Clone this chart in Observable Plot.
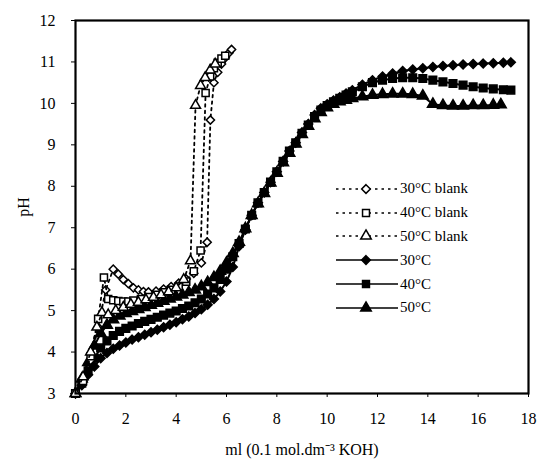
<!DOCTYPE html>
<html><head><meta charset="utf-8">
<script src="https://cdn.jsdelivr.net/npm/d3@7"></script>
<script src="https://cdn.jsdelivr.net/npm/@observablehq/plot@0.6"></script>
<style>
body{margin:0;background:#fff;}
#wrap{position:relative;width:541px;height:464px;}
#legend{position:absolute;left:336px;top:177px;font-family:"Liberation Serif",serif;font-size:15px;color:#000;}
.row{display:flex;align-items:center;height:23.8px;white-space:nowrap;}
.row svg{margin-right:2px;}
</style></head><body><div id="wrap"></div>
<script>
// ---- data ----
const xTicks = [0, 2, 4, 6, 8, 10, 12, 14, 16, 18];
const yTicks = [3, 4, 5, 6, 7, 8, 9, 10, 11, 12];

const mainX = [0,0.25,0.5,0.75,1,1.25,1.5,1.75,2,2.25,2.5,2.75,3,3.25,3.5,3.75,4,4.25,4.5,4.75,5,5.25,5.5,5.75,6,6.25,6.5,6.75,7,7.25,7.5,7.75,8,8.25,8.5,8.75,9,9.25,9.5,9.75,10,10.25,10.5,10.75,11,11.4,11.8,12.2,12.6,13,13.4,13.8,14.2,14.6,15,15.4,15.8,16.2,16.6,17,17.3];
const y30 = [3.0,3.2,3.45,3.65,3.85,3.98,4.08,4.16,4.23,4.3,4.36,4.42,4.48,4.54,4.6,4.66,4.72,4.79,4.86,4.94,5.03,5.14,5.28,5.46,5.7,6.05,6.55,6.95,7.3,7.6,7.85,8.1,8.35,8.6,8.85,9.05,9.3,9.5,9.72,9.88,9.98,10.07,10.15,10.24,10.32,10.45,10.56,10.65,10.72,10.78,10.82,10.85,10.88,10.9,10.92,10.94,10.95,10.96,10.97,10.98,10.99];
const y40 = [3.0,3.25,3.55,3.85,4.1,4.27,4.4,4.5,4.57,4.63,4.69,4.74,4.79,4.84,4.89,4.94,4.99,5.05,5.11,5.19,5.28,5.4,5.55,5.75,6.0,6.3,6.62,6.97,7.3,7.6,7.85,8.1,8.35,8.6,8.85,9.05,9.28,9.48,9.68,9.84,9.95,10.04,10.12,10.2,10.28,10.4,10.5,10.56,10.6,10.62,10.62,10.6,10.56,10.52,10.48,10.44,10.4,10.37,10.35,10.33,10.32];
const mainX50 = [0,0.25,0.5,0.75,1,1.25,1.5,1.75,2,2.25,2.5,2.75,3,3.25,3.5,3.75,4,4.25,4.5,4.75,5,5.25,5.5,5.75,6,6.25,6.5,6.75,7,7.25,7.5,7.75,8,8.25,8.5,8.75,9,9.25,9.5,9.75,10,10.25,10.5,10.75,11,11.4,11.8,12.2,12.6,13,13.4,13.8,14.2,14.6,15,15.4,15.8,16.2,16.6,16.9];
const y50 = [3.0,3.35,3.75,4.15,4.45,4.65,4.78,4.87,4.93,4.98,5.03,5.08,5.13,5.18,5.23,5.28,5.33,5.38,5.44,5.5,5.58,5.68,5.8,5.95,6.15,6.38,6.65,6.98,7.3,7.58,7.83,8.08,8.32,8.57,8.8,9.02,9.25,9.45,9.63,9.78,9.9,9.98,10.04,10.08,10.12,10.16,10.2,10.22,10.23,10.23,10.22,10.18,9.98,9.95,9.94,9.94,9.95,9.95,9.96,9.97];

const blank30X = [0,0.3,0.6,0.9,1.2,1.5,1.7,1.9,2.1,2.3,2.5,2.7,2.9,3.2,3.5,3.8,4.1,4.4,4.7,5.0,5.23,5.36,5.5,5.65,5.8,5.95,6.1,6.2];
const blank30Y = [3.0,3.3,3.8,4.6,5.5,6.0,5.88,5.75,5.65,5.55,5.5,5.46,5.45,5.47,5.52,5.58,5.66,5.76,5.9,6.15,6.65,9.6,10.5,10.75,10.95,11.1,11.22,11.3];
const blank40X = [0,0.3,0.6,0.9,1.13,1.3,1.5,1.7,1.9,2.1,2.3,2.6,2.9,3.2,3.5,3.8,4.1,4.4,4.7,4.97,5.17,5.35,5.5,5.65,5.8,5.95];
const blank40Y = [3.0,3.3,3.9,4.8,5.8,5.28,5.25,5.23,5.22,5.22,5.24,5.28,5.33,5.38,5.44,5.5,5.58,5.7,5.95,6.45,10.25,10.65,10.85,10.98,11.08,11.15];
const blank50X = [0,0.3,0.6,0.85,1.05,1.3,1.6,1.9,2.2,2.5,2.8,3.1,3.4,3.7,4.0,4.3,4.57,4.77,4.97,5.15,5.35,5.55];
const blank50Y = [3.0,3.4,4.0,4.6,4.95,4.9,5.0,5.08,5.15,5.2,5.26,5.32,5.38,5.45,5.55,5.75,6.2,9.95,10.43,10.62,10.8,10.95];

const seriesNames = ["30°C blank", "40°C blank", "50°C blank", "30°C", "40°C", "50°C"];
const xLabel = "ml (0.1 mol.dm⁻³ KOH)";
const yLabel = "pH";

// ---- styles ----
const series = [
  {X: mainX, Y: y30, symbol: "diamond2", r: 4.0, fill: "black", dash: null, w: 2},
  {X: mainX, Y: y40, symbol: "square", r: 4.3, fill: "black", dash: null, w: 2},
  {X: mainX50, Y: y50, symbol: "triangle", r: 4.0, fill: "black", dash: null, w: 2},
  {X: blank30X, Y: blank30Y, symbol: "diamond2", r: 3.7, fill: "white", dash: "2.5,4", w: 1.8},
  {X: blank40X, Y: blank40Y, symbol: "square", r: 4.0, fill: "white", dash: "2.5,4", w: 1.8},
  {X: blank50X, Y: blank50Y, symbol: "triangle", r: 3.7, fill: "white", dash: "2.5,4", w: 1.8}
];

const marks = [];
for (const s of series) {
  const rows = s.X.map((x, i) => ({x, y: s.Y[i]}));
  marks.push(Plot.line(rows, {x: "x", y: "y", stroke: "black", strokeWidth: s.w, strokeDasharray: s.dash ?? undefined}));
  marks.push(Plot.dot(rows, {x: "x", y: "y", symbol: () => s.symbol, r: s.r, fill: s.fill, stroke: "black", strokeWidth: 1.5}));
}

const chart = Plot.plot({
  width: 541, height: 464,
  marginLeft: 75, marginRight: 13, marginTop: 20, marginBottom: 71,
  style: {fontFamily: "'Liberation Serif', serif", fontSize: "16px", color: "black", background: "white"},
  x: {domain: [0, 18]},
  y: {domain: [3, 12]},
  marks: [
    Plot.axisX({ticks: xTicks, tickSize: 4, tickPadding: 15, tickFormat: d => String(d), label: xLabel, labelAnchor: "center", labelOffset: 61, labelArrow: "none"}),
    Plot.axisY({ticks: yTicks, tickSize: 4, tickPadding: 16, tickFormat: d => String(d), label: yLabel, labelAnchor: "center", labelOffset: 58, labelArrow: "none"}),
    ...marks,
    Plot.frame({stroke: "black", strokeWidth: 2.2})
  ]
});
const wrap = document.getElementById("wrap");
wrap.appendChild(chart);

// ---- legend (HTML overlay) ----
const legendOrder = [
  {name: seriesNames[0], symbol: d3.symbolDiamond2, fill: "white", dash: "2.5,4"},
  {name: seriesNames[1], symbol: d3.symbolSquare, fill: "white", dash: "2.5,4"},
  {name: seriesNames[2], symbol: d3.symbolTriangle, fill: "white", dash: "2.5,4"},
  {name: seriesNames[3], symbol: d3.symbolDiamond2, fill: "black", dash: null},
  {name: seriesNames[4], symbol: d3.symbolSquare, fill: "black", dash: null},
  {name: seriesNames[5], symbol: d3.symbolTriangle, fill: "black", dash: null}
];
const legend = document.createElement("div");
legend.id = "legend";
for (const l of legendOrder) {
  const row = document.createElement("div");
  row.className = "row";
  const sw = d3.create("svg").attr("width", 62).attr("height", 20);
  sw.append("line").attr("x1", 0).attr("x2", 62).attr("y1", 10).attr("y2", 10)
    .attr("stroke", "black").attr("stroke-width", 1.6).attr("stroke-dasharray", l.dash);
  sw.append("path").attr("d", d3.symbol(l.symbol, 48)()).attr("transform", "translate(30,10)")
    .attr("fill", l.fill).attr("stroke", "black").attr("stroke-width", 1.5);
  row.appendChild(sw.node());
  const t = document.createElement("span");
  t.textContent = l.name;
  row.appendChild(t);
  legend.appendChild(row);
}
wrap.appendChild(legend);
</script></body></html>
